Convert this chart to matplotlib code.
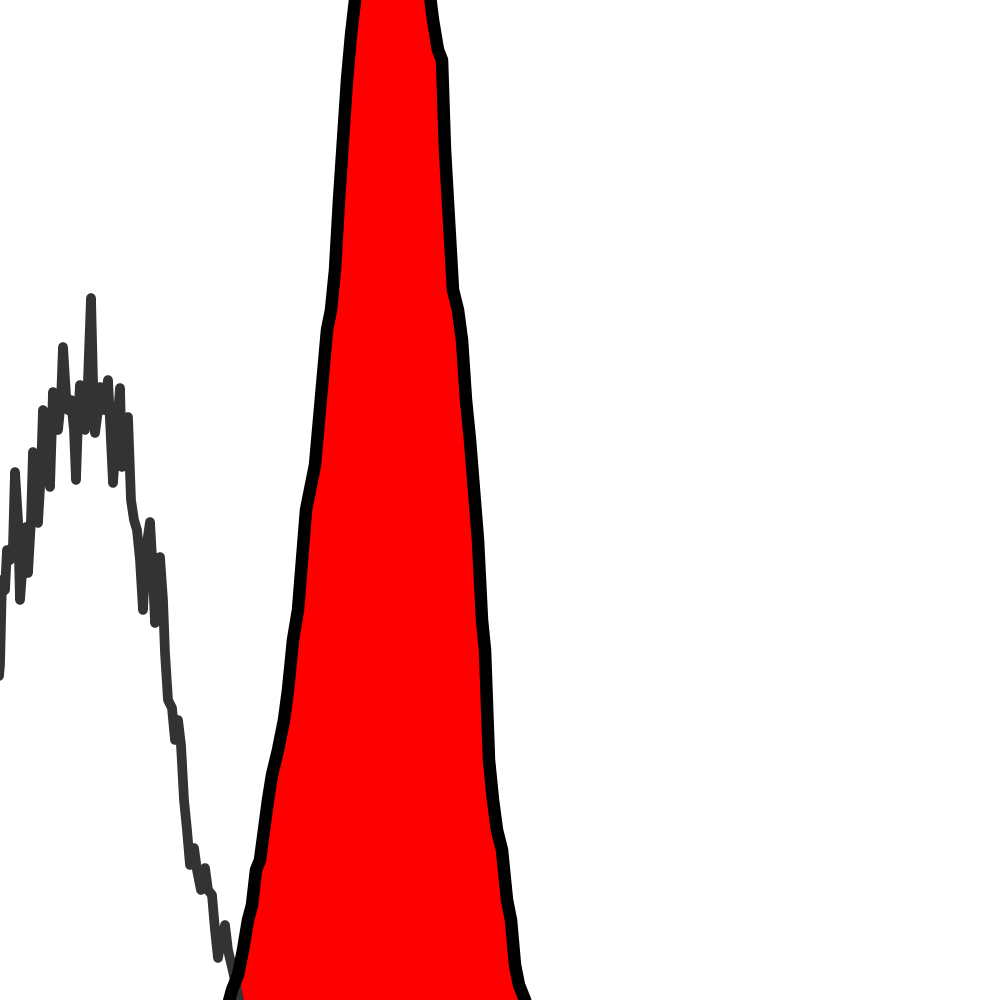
import matplotlib
matplotlib.use("Agg")
import matplotlib.pyplot as plt

# control (unstained) histogram: channel vs count
ctrl_x = [-5, 0, 2, 5, 7, 10, 13, 15, 18, 20, 23, 26, 28, 31, 33, 36, 38, 41, 43, 46,
          50, 53, 56, 58, 61, 63, 66, 68, 71, 74, 76, 78, 80, 83, 85, 88, 91, 93, 95, 98,
          100, 104, 108, 110, 113, 116, 120, 122, 125, 128, 131, 134, 137, 140, 143, 146,
          150, 153, 155, 158, 160, 163, 165, 168, 172, 175, 178, 181, 184, 187, 190, 194,
          197, 201, 205, 208, 212, 215, 218, 221, 225, 228, 232, 236, 240]
ctrl_y = [280, 335, 420, 410, 450, 440, 455, 528, 480, 400, 440, 473, 427, 480, 548, 510,
          477, 530, 590, 560, 513, 608, 580, 570, 600, 653, 605, 590, 600, 570, 520, 580,
          615, 590, 570, 620, 702, 620, 567, 590, 613, 590, 620, 580, 517, 560, 612, 533,
          580, 583, 500, 480, 470, 440, 390, 450, 478, 425, 377, 410, 443, 400, 347, 300,
          292, 260, 280, 255, 200, 170, 135, 152, 130, 110, 132, 110, 105, 70, 42, 60,
          75, 50, 33, 15, -5]

# stained sample histogram
samp_x = [228, 232, 238, 243, 248, 252, 256, 260, 264, 268, 272, 278, 284, 288, 293, 298,
          302, 306, 310, 315, 319, 323, 327, 331, 335, 339, 343, 347, 351, 355, 360, 370,
          385, 400, 415, 428, 433, 438, 442, 445, 449, 453, 458, 462, 466, 470, 474, 478,
          482, 485, 489, 493, 497, 502, 507, 511, 515, 519, 523, 527]
samp_y = [-5, 10, 25, 50, 80, 95, 130, 140, 170, 200, 225, 250, 280, 310, 360, 390,
          440, 490, 510, 535, 580, 625, 670, 690, 730, 800, 860, 920, 965, 1000, 1060, 1120,
          1150, 1140, 1100, 1020, 980, 950, 940, 850, 780, 710, 690, 660, 600, 560, 510, 460,
          380, 350, 240, 200, 170, 150, 100, 80, 35, 15, 5, -5]

fig = plt.figure(figsize=(10, 10), dpi=100)
ax = fig.add_axes([0, 0, 1, 1])

ax.plot(ctrl_x, ctrl_y, color='#333333', linewidth=7,
        solid_capstyle='round', solid_joinstyle='round')

ax.fill_between(samp_x, samp_y, -10, color='#ff0000', linewidth=0)
ax.plot(samp_x, samp_y, color='black', linewidth=9,
        solid_capstyle='round', solid_joinstyle='round')

ax.set_xlim(0, 1000)
ax.set_ylim(0, 1000)
ax.axis('off')

fig.savefig('out.png', dpi=100)
